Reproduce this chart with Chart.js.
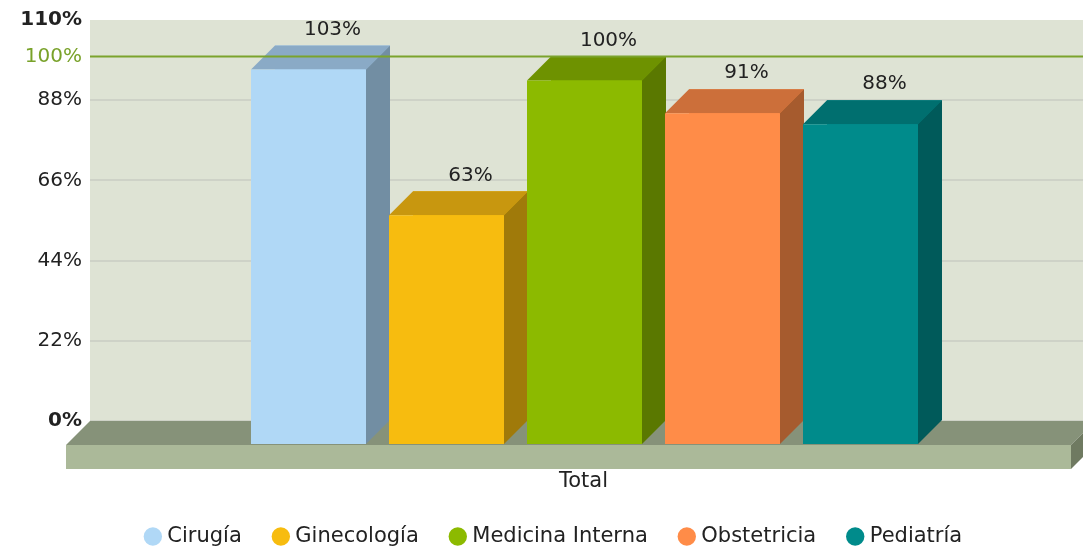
<!DOCTYPE html>
<html>
<head>
<meta charset="utf-8">
<title>Total</title>
<script src="https://cdn.jsdelivr.net/npm/chart.js@4.4.0/dist/chart.umd.min.js"></script>
<style>
    body { margin: 0; background: #fff; }
    #wrap { width: 1083px; height: 550px; }
</style>
</head>
<body>
<div id="wrap"><canvas id="chart"></canvas></div>
<script>
//chart data
const categories = ["Total"];
const services = ["Cirugía", "Ginecología", "Medicina Interna", "Obstetricia", "Pediatría"];
const values = [103, 63, 100, 91, 88];
const yTicks = [0, 22, 44, 66, 88, 110];
const targetValue = 100;
const targetLabel = "100%";

//colours: front face, top face, side face
const frontColors = ["#b0d8f6", "#f7bc0f", "#8cba00", "#ff8c48", "#008b8b"];
const topColors = ["#8aaac6", "#c8970f", "#6e9200", "#cc6f3a", "#006f6f"];
const sideColors = ["#728ea3", "#a07a0a", "#5a7800", "#a65b2e", "#005a5a"];

const FONT = "DejaVu Sans";
const DEPTH = 24;       // 3d depth (px), front plane is shifted left/down
const EXTRA_RIGHT = 44; // category scale runs past the canvas edge

// small helper to fill a polygon
function poly(ctx, pts, color) {
    ctx.beginPath();
    ctx.moveTo(pts[0][0], pts[0][1]);
    for (let i = 1; i < pts.length; i++) ctx.lineTo(pts[i][0], pts[i][1]);
    ctx.closePath();
    ctx.fillStyle = color;
    ctx.fill();
}

// 3d look: wall, floor, boxes, trend line, value labels
const threeD = {
    id: "threeD",
    afterLayout(chart) {
        // stretch the x scale so the group sits where the original has it
        let x = chart.scales.x;
        x.right += EXTRA_RIGHT;
        x.width += EXTRA_RIGHT;
        x.configure();
        chart.legend.left += 14;
        chart.legend.right += 14;
    },
    beforeDraw(chart) {
        let ctx = chart.ctx, a = chart.chartArea;
        ctx.save();
        ctx.fillStyle = "#dee3d4";
        ctx.fillRect(a.left, a.top, chart.width - a.left, a.bottom - a.top);
        ctx.restore();
    },
    beforeDatasetsDraw(chart) {
        let ctx = chart.ctx, a = chart.chartArea;
        let y0 = chart.scales.y.getPixelForValue(0);
        let l = a.left, r = chart.width + 12;
        ctx.save();
        // floor top
        poly(ctx, [[l, y0], [r, y0], [r - DEPTH, y0 + DEPTH], [l - DEPTH, y0 + DEPTH]], "#869279");
        // floor front
        poly(ctx, [[l - DEPTH, y0 + DEPTH], [r - DEPTH, y0 + DEPTH], [r - DEPTH, y0 + 2 * DEPTH], [l - DEPTH, y0 + 2 * DEPTH]], "#abb999");
        // floor right side
        poly(ctx, [[r - DEPTH, y0 + DEPTH], [r, y0], [r, y0 + DEPTH], [r - DEPTH, y0 + 2 * DEPTH]], "#6f7a61");
        ctx.restore();
    },
    afterDatasetsDraw(chart) {
        let ctx = chart.ctx, a = chart.chartArea;
        ctx.save();
        chart.data.datasets.forEach((ds, i) => {
            let el = chart.getDatasetMeta(i).data[0];
            let p = el.getProps(["x", "y", "base", "width"], true);
            let xl = p.x - p.width / 2, xr = p.x + p.width / 2;
            let d = DEPTH;
            // top
            poly(ctx, [[xl, p.y], [xr, p.y], [xr - d, p.y + d], [xl - d, p.y + d]], topColors[i]);
            // side
            poly(ctx, [[xr, p.y], [xr, p.base], [xr - d, p.base + d], [xr - d, p.y + d]], sideColors[i]);
            // front
            poly(ctx, [[xl - d, p.y + d], [xr - d, p.y + d], [xr - d, p.base + d], [xl - d, p.base + d]], frontColors[i]);
        });

        // trend line at 100%
        let yt = chart.scales.y.getPixelForValue(targetValue);
        ctx.strokeStyle = "#7ba32c";
        ctx.lineWidth = 2;
        ctx.beginPath();
        ctx.moveTo(a.left, yt);
        ctx.lineTo(chart.width, yt);
        ctx.stroke();
        ctx.font = "20px " + FONT;
        ctx.fillStyle = "#79a22a";
        ctx.textAlign = "right";
        ctx.textBaseline = "middle";
        ctx.fillText(targetLabel, a.left - 8, yt);

        // value labels
        ctx.fillStyle = "#222";
        ctx.textAlign = "center";
        chart.data.datasets.forEach((ds, i) => {
            let el = chart.getDatasetMeta(i).data[0];
            ctx.fillText(ds.data[0] + "%", el.x, el.y - 16);
        });
        ctx.restore();
    }
};

document.addEventListener("DOMContentLoaded", () => {
    let context = document.getElementById("chart").getContext("2d");

    let datasets = services.map((name, i) => ({
        label: name,
        data: [values[i]],
        backgroundColor: frontColors[i],
        borderWidth: 0,
        categoryPercentage: 690 / 1037,
        barPercentage: 115 / 138
    }));

    new Chart(context, {
        type: "bar",
        data: { labels: categories, datasets: datasets },
        plugins: [threeD],
        options: {
            responsive: true,
            maintainAspectRatio: false,
            animation: false,
            layout: { padding: { top: 20, left: 0, right: 0, bottom: -7 } },
            scales: {
                x: {
                    grid: { display: false },
                    border: { display: false },
                    ticks: {
                        padding: 40,
                        labelOffset: -25,
                        color: "#222",
                        font: { family: FONT, size: 21 }
                    },
                    afterFit: (s) => { s.height = 70; }
                },
                y: {
                    min: 0,
                    max: 110,
                    border: { display: false },
                    grid: {
                        color: (c) => (c.tick && c.tick.value === 110) ? "rgba(0,0,0,0)" : "#ced2c7",
                        lineWidth: 2,
                        drawTicks: false
                    },
                    afterBuildTicks: (s) => { s.ticks = yTicks.map(v => ({ value: v })); },
                    afterFit: (s) => { s.width = 90; },
                    ticks: {
                        padding: 8,
                        color: "#222",
                        font: (c) => ({
                            family: FONT,
                            size: 20,
                            weight: (c.tick && (c.tick.value === 0 || c.tick.value === 110)) ? "bold" : "normal"
                        }),
                        callback: (v) => v + "%"
                    }
                }
            },
            plugins: {
                tooltip: { enabled: false },
                legend: {
                    position: "bottom",
                    labels: {
                        usePointStyle: true,
                        pointStyle: "circle",
                        boxWidth: 8,
                        boxHeight: 13,
                        padding: 35,
                        color: "#222",
                        font: { family: FONT, size: 21 }
                    }
                }
            }
        }
    });
});
</script>
</body>
</html>
